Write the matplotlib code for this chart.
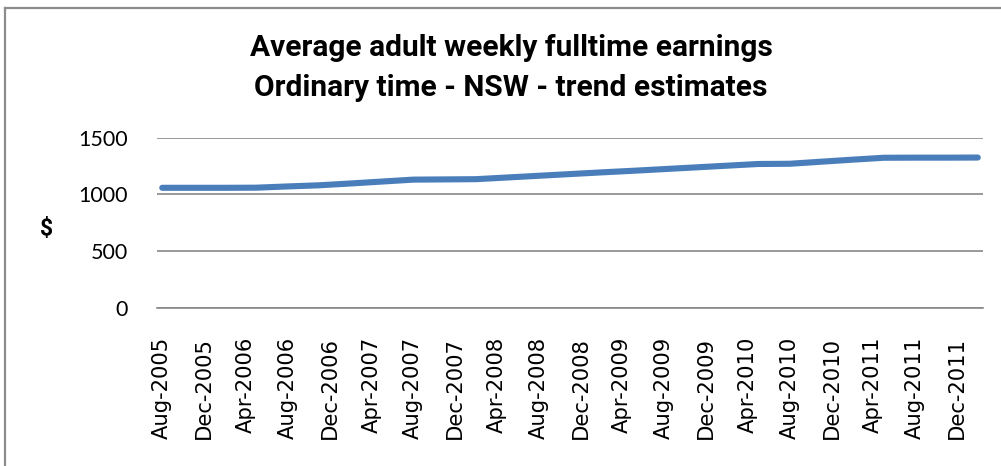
import matplotlib
matplotlib.use('Agg')
import matplotlib.pyplot as plt
from matplotlib.lines import Line2D
import pandas as pd

# Quarterly trend estimates
quarters = ['Aug-2005', 'Nov-2005', 'Feb-2006', 'May-2006', 'Aug-2006', 'Nov-2006',
            'Feb-2007', 'May-2007', 'Aug-2007', 'Nov-2007', 'Feb-2008', 'May-2008',
            'Aug-2008', 'Nov-2008', 'Feb-2009', 'May-2009', 'Aug-2009', 'Nov-2009',
            'Feb-2010', 'May-2010', 'Aug-2010', 'Nov-2010', 'Feb-2011', 'May-2011',
            'Aug-2011', 'Nov-2011', 'Feb-2012']
earnings = [1058, 1058, 1058, 1059, 1070, 1080,
            1096, 1113, 1130, 1132, 1134, 1149,
            1164, 1179, 1194, 1208, 1223, 1238,
            1253, 1268, 1270, 1288, 1306, 1323,
            1324, 1324, 1325]

tick_labels = ['Aug-2005', 'Dec-2005', 'Apr-2006', 'Aug-2006', 'Dec-2006', 'Apr-2007',
               'Aug-2007', 'Dec-2007', 'Apr-2008', 'Aug-2008', 'Dec-2008', 'Apr-2009',
               'Aug-2009', 'Dec-2009', 'Apr-2010', 'Aug-2010', 'Dec-2010', 'Apr-2011',
               'Aug-2011', 'Dec-2011']
y_ticks = [0, 500, 1000, 1500]


def month_index(labels):
    d = pd.to_datetime(labels, format='%b-%Y')
    return (d.year - 2005) * 12 + d.month - 8


x = month_index(quarters)
tick_pos = month_index(tick_labels)

fig = plt.figure(figsize=(10.01, 4.66), dpi=100)
ax = fig.add_axes([157 / 1001, 1 - 307.7 / 466, (983 - 157) / 1001, (307.7 - 137.7) / 466])

ax.plot(x, earnings, color='#4A7EBB', linewidth=4.4, solid_capstyle='round', zorder=3)

ax.set_xlim(-0.5, x.max() + 0.5)
ax.set_ylim(0, 1500)
ax.set_yticks(y_ticks)
ax.set_yticklabels([str(v) for v in y_ticks], fontfamily='Lato', fontsize=15.5)
ax.set_xticks(tick_pos)
ax.set_xticklabels(tick_labels, rotation=90, fontfamily='DejaVu Sans', fontsize=15.2)
ax.tick_params(axis='x', length=0, pad=21)
ax.tick_params(axis='y', length=0, pad=21)

ax.grid(axis='y', color='#878787', linewidth=1.2)
ax.set_axisbelow(True)
for s in ['top', 'right', 'left']:
    ax.spines[s].set_visible(False)
ax.spines['bottom'].set_color('#878787')
ax.spines['bottom'].set_linewidth(1.2)

fig.text(47 / 1001, 1 - 228 / 466, '$', fontfamily='Roboto', fontweight='bold',
         fontsize=16.5, ha='center', va='center')

fig.text(511 / 1001, 1 - 48 / 466, 'Average adult weekly fulltime earnings',
         fontfamily='Roboto', fontweight='bold', fontsize=21.5, ha='center', va='center')
fig.text(511 / 1001, 1 - 88 / 466, 'Ordinary time - NSW - trend estimates',
         fontfamily='Roboto', fontweight='bold', fontsize=21.5, ha='center', va='center')

# chart area border (only top and left edges are inside the crop)
fig.add_artist(Line2D([4.5 / 1001, 4.5 / 1001], [0, 1 - 7.5 / 466], color='#8c8c8c',
                      linewidth=1.6, transform=fig.transFigure))
fig.add_artist(Line2D([4.5 / 1001, 1], [1 - 7.5 / 466, 1 - 7.5 / 466], color='#8c8c8c',
                      linewidth=1.6, transform=fig.transFigure))

fig.savefig('out.png', dpi=100)
